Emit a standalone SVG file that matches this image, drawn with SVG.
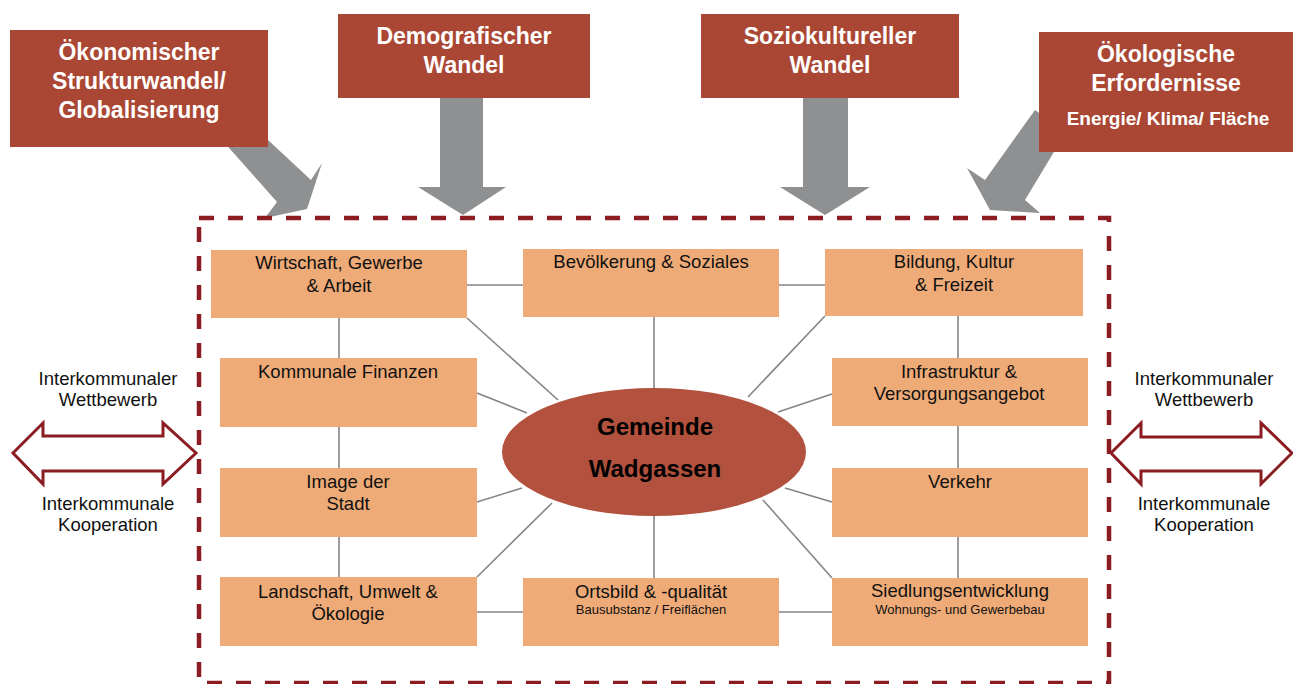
<svg xmlns="http://www.w3.org/2000/svg" width="1293" height="684" viewBox="0 0 1293 684">
<style>
.top{fill:#aa4734}
.ttl{font-family:"Liberation Sans",Arial,sans-serif;font-weight:bold;font-size:23px;fill:#ffffff;text-anchor:middle}
.sub{font-family:"Liberation Sans",Arial,sans-serif;font-weight:bold;font-size:19px;fill:#ffffff;text-anchor:middle}
.gar{fill:#8e9092}
.box{fill:#efab77}
.lbl{font-family:"Liberation Sans",Arial,sans-serif;font-size:18.5px;fill:#111;text-anchor:middle}
.sm{font-family:"Liberation Sans",Arial,sans-serif;font-size:13px;fill:#111;text-anchor:middle}
.side{font-family:"Liberation Sans",Arial,sans-serif;font-size:18.5px;fill:#111;text-anchor:middle}
.con line{stroke:#858585;stroke-width:1.6}
.dash{fill:none;stroke:#8b1c22;stroke-width:4.5;stroke-dasharray:15 14}
.dbl{fill:#fff;stroke:#8b1c22;stroke-width:3}
.ctr{font-family:"Liberation Sans",Arial,sans-serif;font-weight:bold;font-size:24px;fill:#000;text-anchor:middle}
</style>
<rect width="1293" height="684" fill="#ffffff"/>

<g id="gray-arrows">
<polygon class="gar" points="222,140 268,140 311,180 322,163 307,209 265,218 277,202"/>
<polygon class="gar" points="440,95 483,95 483,187 506,187 463,215 418,187 440,187"/>
<polygon class="gar" points="803,95 848,95 848,187 870,187 825,215 780,187 803,187"/>
<polygon class="gar" points="1035,110 1066,132 1025,200 1040,213 990,210 967,168 985,180"/>
</g>

<rect id="frame" class="dash" x="199" y="218" width="910" height="465"/>

<g id="top-oekonomisch">
<rect class="top" x="10" y="30" width="258" height="117"/>
<text class="ttl" x="139" y="60">Ökonomischer</text>
<text class="ttl" x="139" y="89">Strukturwandel/</text>
<text class="ttl" x="139" y="118">Globalisierung</text>
</g>
<g id="top-demografisch">
<rect class="top" x="338" y="14" width="252" height="84"/>
<text class="ttl" x="464" y="44">Demografischer</text>
<text class="ttl" x="464" y="73">Wandel</text>
</g>
<g id="top-soziokulturell">
<rect class="top" x="701" y="14" width="258" height="84"/>
<text class="ttl" x="830" y="44">Soziokultureller</text>
<text class="ttl" x="830" y="73">Wandel</text>
</g>
<g id="top-oekologisch">
<rect class="top" x="1039" y="32" width="254" height="120"/>
<text class="ttl" x="1166" y="62">Ökologische</text>
<text class="ttl" x="1166" y="91">Erfordernisse</text>
<text class="sub" x="1168" y="125">Energie/ Klima/ Fläche</text>
</g>

<g id="connectors" class="con">
<line x1="467" y1="285" x2="523" y2="285"/>
<line x1="779" y1="285" x2="825" y2="285"/>
<line x1="339" y1="318" x2="339" y2="358"/>
<line x1="339" y1="427" x2="339" y2="468"/>
<line x1="339" y1="537" x2="339" y2="577"/>
<line x1="958" y1="316" x2="958" y2="358"/>
<line x1="958" y1="426" x2="958" y2="468"/>
<line x1="958" y1="537" x2="958" y2="578"/>
<line x1="654" y1="317" x2="654" y2="390"/>
<line x1="654" y1="515" x2="654" y2="578"/>
<line x1="477" y1="612" x2="523" y2="612"/>
<line x1="779" y1="612" x2="832" y2="612"/>
<line x1="467" y1="318" x2="558" y2="400"/>
<line x1="477" y1="393" x2="527" y2="413"/>
<line x1="477" y1="502" x2="522" y2="488"/>
<line x1="477" y1="577" x2="552" y2="503"/>
<line x1="825" y1="316" x2="748" y2="397"/>
<line x1="832" y1="394" x2="778" y2="412"/>
<line x1="832" y1="502" x2="785" y2="488"/>
<line x1="832" y1="578" x2="763" y2="500"/>
</g>

<g id="center">
<ellipse cx="654" cy="452" rx="152" ry="64" fill="#b2513d"/>
<text class="ctr" x="655" y="435">Gemeinde</text>
<text class="ctr" x="655" y="477">Wadgassen</text>
</g>

<g id="n-wirtschaft">
<rect class="box" x="211" y="250" width="256" height="68"/>
<text class="lbl" x="339" y="269">Wirtschaft, Gewerbe</text>
<text class="lbl" x="339" y="292">&amp; Arbeit</text>
</g>
<g id="n-bevoelkerung">
<rect class="box" x="523" y="249" width="256" height="68"/>
<text class="lbl" x="651" y="268">Bevölkerung &amp; Soziales</text>
</g>
<g id="n-bildung">
<rect class="box" x="825" y="249" width="258" height="67"/>
<text class="lbl" x="954" y="268">Bildung, Kultur</text>
<text class="lbl" x="954" y="291">&amp; Freizeit</text>
</g>
<g id="n-finanzen">
<rect class="box" x="220" y="358" width="257" height="69"/>
<text class="lbl" x="348" y="378">Kommunale Finanzen</text>
</g>
<g id="n-infrastruktur">
<rect class="box" x="832" y="358" width="256" height="68"/>
<text class="lbl" x="959" y="378">Infrastruktur &amp;</text>
<text class="lbl" x="959" y="400">Versorgungsangebot</text>
</g>
<g id="n-image">
<rect class="box" x="220" y="468" width="257" height="69"/>
<text class="lbl" x="348" y="488">Image der</text>
<text class="lbl" x="348" y="510">Stadt</text>
</g>
<g id="n-verkehr">
<rect class="box" x="832" y="468" width="256" height="69"/>
<text class="lbl" x="960" y="488">Verkehr</text>
</g>
<g id="n-landschaft">
<rect class="box" x="220" y="577" width="257" height="69"/>
<text class="lbl" x="348" y="598">Landschaft, Umwelt &amp;</text>
<text class="lbl" x="348" y="620">Ökologie</text>
</g>
<g id="n-ortsbild">
<rect class="box" x="523" y="578" width="256" height="68"/>
<text class="lbl" x="651" y="598">Ortsbild &amp; -qualität</text>
<text class="sm" x="651" y="614">Bausubstanz / Freiflächen</text>
</g>
<g id="n-siedlung">
<rect class="box" x="832" y="578" width="256" height="68"/>
<text class="lbl" x="960" y="597">Siedlungsentwicklung</text>
<text class="sm" x="960" y="614">Wohnungs- und Gewerbebau</text>
</g>

<g id="side-left">
<polygon class="dbl" points="13,453 43,423 43,436 163,436 163,423 196,453 163,484 163,471 43,471 43,484"/>
<text class="side" x="108" y="385">Interkommunaler</text>
<text class="side" x="108" y="406">Wettbewerb</text>
<text class="side" x="108" y="510">Interkommunale</text>
<text class="side" x="108" y="531">Kooperation</text>
</g>
<g id="side-right">
<polygon class="dbl" points="1111,453 1141,423 1141,437 1261,437 1261,423 1292,453 1261,484 1261,471 1141,471 1141,484"/>
<text class="side" x="1204" y="385">Interkommunaler</text>
<text class="side" x="1204" y="406">Wettbewerb</text>
<text class="side" x="1204" y="510">Interkommunale</text>
<text class="side" x="1204" y="531">Kooperation</text>
</g>
</svg>
